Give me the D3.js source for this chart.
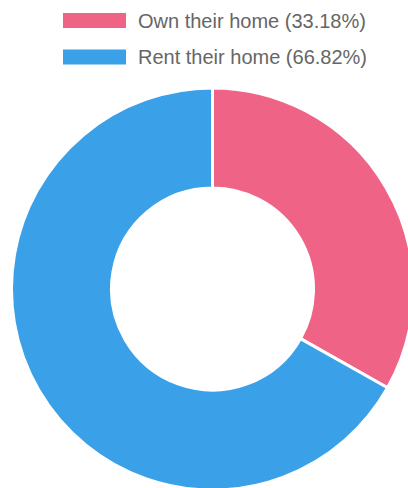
<!DOCTYPE html>
<html>
<head>
<meta charset="utf-8">
<script src="https://cdn.jsdelivr.net/npm/d3@7"></script>
<style>
  html, body { margin: 0; padding: 0; background: #fff; }
  svg { display: block; }
</style>
</head>
<body>
<svg id="chart" width="408" height="488"></svg>
<script>
const labels = ["Own their home", "Rent their home"];
const values = [33.18, 66.82];
const colors = ["#ef6486", "#3aa0e8"];

const svg = d3.select("#chart");
const W = 408, H = 488;
const cx = 212.5, cy = 289, outerR = 201, innerR = 101;

// Legend
const legend = svg.append("g");
const rowY = d3.scalePoint().domain(labels).range([20.5, 57]);
const items = legend.selectAll("g.item").data(labels).join("g")
  .attr("class", "item")
  .attr("transform", d => `translate(0,${rowY(d)})`);
items.append("rect")
  .attr("x", 63).attr("y", -7.5).attr("width", 63).attr("height", 15)
  .attr("fill", (d, i) => colors[i]);
items.append("text")
  .attr("x", 138).attr("y", 7)
  .attr("font-family", "'Liberation Sans', Arial, Helvetica, sans-serif")
  .attr("font-size", 20)
  .attr("fill", "#666")
  .text((d, i) => `${d} (${values[i].toFixed(2)}%)`);

// Donut
const pie = d3.pie().sort(null).value(d => d)(values);
const arc = d3.arc().innerRadius(innerR).outerRadius(outerR);
svg.append("g")
  .attr("transform", `translate(${cx},${cy})`)
  .selectAll("path").data(pie).join("path")
  .attr("d", arc)
  .attr("fill", (d, i) => colors[i])
  .attr("stroke", "#fff")
  .attr("stroke-width", 3)
  .attr("stroke-linejoin", "round");
</script>
</body>
</html>
